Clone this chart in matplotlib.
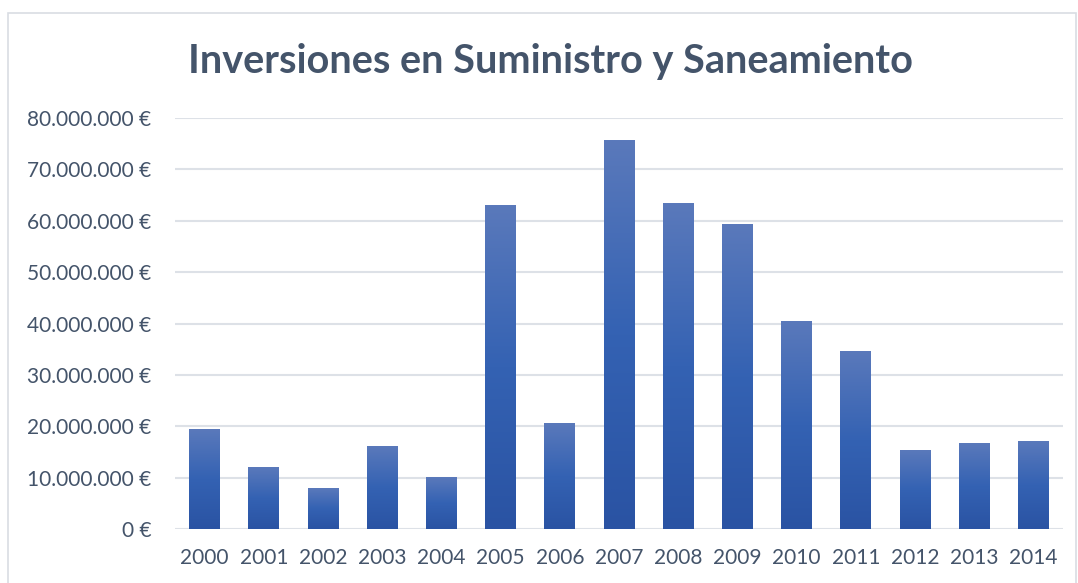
import numpy as np
import matplotlib.pyplot as plt
from matplotlib.colors import LinearSegmentedColormap
from matplotlib.patches import Rectangle
from matplotlib.ticker import FuncFormatter

years = ['2000', '2001', '2002', '2003', '2004', '2005', '2006', '2007',
         '2008', '2009', '2010', '2011', '2012', '2013', '2014']
inversion = [19.3e6, 11.9e6, 7.8e6, 16.1e6, 10.1e6, 63.0e6, 20.6e6, 75.7e6,
             63.4e6, 59.3e6, 40.3e6, 34.6e6, 15.2e6, 16.7e6, 17.1e6]
yticks = [0, 10e6, 20e6, 30e6, 40e6, 50e6, 60e6, 70e6, 80e6]

text_col = '#44546a'
grid_col = '#dde1e7'
plt.rcParams['font.family'] = ['Lato', 'DejaVu Sans']

W, H = 1078, 583
fig = plt.figure(figsize=(W / 100, H / 100), dpi=100)
fig.patches.append(Rectangle((8 / W, -0.01), (1076 - 8) / W, 1.01 - 13 / H,
                             transform=fig.transFigure, fill=False,
                             edgecolor='#d9dde3', lw=1.2))
ax = fig.add_axes([175 / W, (H - 529) / H, 888 / W, 411 / H])

# vertical gradient per bar: lighter at top, darker at bottom
cmap = LinearSegmentedColormap.from_list('bar', ['#2a53a3', '#3462b3', '#5a79bb'])
grad = np.linspace(0, 1, 256).reshape(-1, 1)
width = 0.52
x = np.arange(len(years))
for xi, v in zip(x, inversion):
    ax.imshow(grad, cmap=cmap, origin='lower', aspect='auto',
              extent=(xi - width / 2, xi + width / 2, 0, v), zorder=3)

ax.set_xlim(-0.5, len(years) - 0.5)
ax.set_ylim(0, 80e6)
ax.set_yticks(yticks)
ax.yaxis.set_major_formatter(FuncFormatter(
    lambda v, p: f"{int(v):,}".replace(',', '.') + ' €'))
ax.set_xticks(x)
ax.set_xticklabels(years)
ax.grid(axis='y', color=grid_col, lw=1.5, zorder=0)
for s in ax.spines.values():
    s.set_visible(False)
ax.tick_params(length=0, labelsize=15, labelcolor=text_col)
ax.tick_params(axis='y', pad=17)
ax.tick_params(axis='x', pad=14)

fig.text(550 / W, 1 - 61 / H, 'Inversiones en Suministro y Saneamiento',
         ha='center', va='center', fontsize=28.5, fontweight='bold', color=text_col)

fig.savefig('out.png', dpi=100)
